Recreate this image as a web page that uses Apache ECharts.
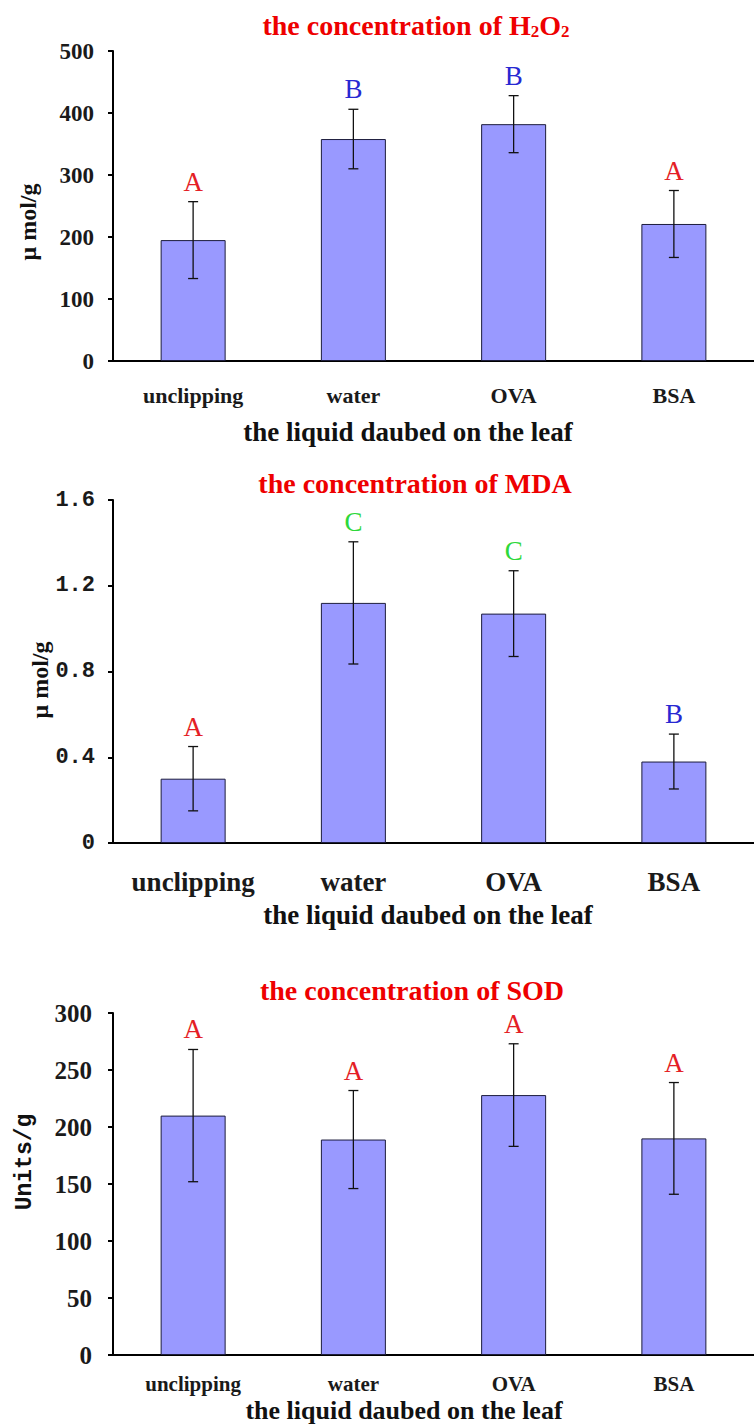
<!DOCTYPE html>
<html>
<head>
<meta charset="utf-8">
<script src="https://cdn.jsdelivr.net/npm/echarts@6/dist/echarts.min.js"></script>
<style>
html,body{margin:0;padding:0;background:#fff;}
#chart{width:754px;height:1426px;}
</style>
</head>
<body>
<div id="chart"></div>
<script>
// ---- data ----
const categories = ['unclipping', 'water', 'OVA', 'BSA'];
const h2o2Mean = [195, 358, 382, 221];
const h2o2Sd = [62, 48, 46, 54];
const h2o2Letters = ['A', 'B', 'B', 'A'];
const mdaMean = [0.30, 1.12, 1.07, 0.38];
const mdaSd = [0.15, 0.285, 0.20, 0.128];
const mdaLetters = ['A', 'C', 'C', 'B'];
const sodMean = [210, 189, 228, 190];
const sodSd = [58, 43, 45, 49];
const sodLetters = ['A', 'A', 'A', 'A'];
const h2o2Ticks = {min: 0, max: 500, interval: 100};
const mdaTicks = {min: 0, max: 1.6, interval: 0.4};
const sodTicks = {min: 0, max: 300, interval: 50};
const titles = ['the concentration of H', 'the concentration of MDA', 'the concentration of SOD'];
const xName = 'the liquid daubed on the leaf';
const yNames = ['\u03bc mol/g', '\u03bc mol/g', 'Units/g'];

// ---- styles ----
const letterColor = {A: '#e41e26', B: '#2828d2', C: '#2ed83a'};
const serif = '"Liberation Serif", "Times New Roman", serif';
const mono = '"Liberation Mono", "DejaVu Sans Mono", monospace';
const textColor = '#1a1a1a';

const chart = echarts.init(document.getElementById('chart'), null, {renderer: 'svg'});

function errRender(letters) {
  return function (params, api) {
    const x = api.value(0), m = api.value(1), s = api.value(2);
    const top = api.coord([x, m + s]);
    const bot = api.coord([x, m - s]);
    const cap = 5;
    const ls = {stroke: '#111', lineWidth: 1.3};
    const L = letters[params.dataIndex];
    return {
      type: 'group',
      children: [
        {type: 'line', shape: {x1: top[0], y1: top[1], x2: bot[0], y2: bot[1]}, style: ls},
        {type: 'line', shape: {x1: top[0] - cap, y1: top[1], x2: top[0] + cap, y2: top[1]}, style: ls},
        {type: 'line', shape: {x1: bot[0] - cap, y1: bot[1], x2: bot[0] + cap, y2: bot[1]}, style: ls},
        {type: 'text', x: top[0], y: top[1] - 20,
          style: {text: L, fill: letterColor[L], font: '27px ' + serif, align: 'center', verticalAlign: 'middle'}}
      ]
    };
  };
}

const grids = [
  {left: 113, top: 51, width: 648, height: 310},
  {left: 113, top: 500, width: 648, height: 343},
  {left: 113, top: 1013, width: 648, height: 342}
];

const xLabelCfg = [
  {fontFamily: serif, fontWeight: 'bold', fontSize: 22, margin: 23},
  {fontFamily: serif, fontWeight: 'bold', fontSize: 27, margin: 25},
  {fontFamily: serif, fontWeight: 'bold', fontSize: 21, margin: 18}
];
const yLabelCfg = [
  {fontFamily: serif, fontWeight: 'bold', fontSize: 23, margin: 19},
  {fontFamily: mono, fontWeight: 'bold', fontSize: 22, margin: 18},
  {fontFamily: serif, fontWeight: 'bold', fontSize: 25, margin: 21}
];
const ticks = [h2o2Ticks, mdaTicks, sodTicks];
const means = [h2o2Mean, mdaMean, sodMean];
const sds = [h2o2Sd, mdaSd, sodSd];
const letters = [h2o2Letters, mdaLetters, sodLetters];

const xAxis = [0, 1, 2].map(i => ({
  type: 'category', gridIndex: i, data: categories,
  axisLine: {lineStyle: {color: '#000', width: 2}},
  axisTick: {inside: true, length: 5, lineStyle: {color: '#000', width: 2}},
  axisLabel: Object.assign({color: textColor}, xLabelCfg[i])
}));
const yAxis = [0, 1, 2].map(i => ({
  type: 'value', gridIndex: i,
  min: ticks[i].min, max: ticks[i].max, interval: ticks[i].interval,
  axisLine: {show: true, lineStyle: {color: '#000', width: 2}},
  axisTick: {show: true, length: 5, lineStyle: {color: '#000', width: 2}},
  splitLine: {show: false},
  axisLabel: Object.assign({color: textColor}, yLabelCfg[i])
}));

const series = [];
[0, 1, 2].forEach(i => {
  series.push({
    type: 'bar', xAxisIndex: i, yAxisIndex: i, data: means[i], barWidth: 65,
    itemStyle: {color: '#9999ff', borderColor: '#1c1c3c', borderWidth: 1}
  });
  series.push({
    type: 'custom', xAxisIndex: i, yAxisIndex: i, clip: false, z: 5,
    renderItem: errRender(letters[i]),
    encode: {x: 0, y: 1},
    data: categories.map((c, k) => [k, means[i][k], sds[i][k]])
  });
});

const titleFont = 'bold 28px ' + serif;
const nameFont = 'bold 27px ' + serif;
const graphic = [
  {type: 'text', x: 416, y: 25, style: {
    text: '{a|' + titles[0] + '}{s|2}{a|O}{s|2}', align: 'center', verticalAlign: 'middle',
    rich: {a: {font: titleFont, fill: '#ee0000'}, s: {font: 'bold 17px ' + serif, fill: '#ee0000', padding: [12, 0, 0, 0]}}
  }},
  {type: 'text', x: 415, y: 483, style: {text: titles[1], font: titleFont, fill: '#ee0000', align: 'center', verticalAlign: 'middle'}},
  {type: 'text', x: 412, y: 990, style: {text: titles[2], font: titleFont, fill: '#ee0000', align: 'center', verticalAlign: 'middle'}},
  {type: 'text', x: 408, y: 432, style: {text: xName, font: nameFont, fill: '#111', align: 'center', verticalAlign: 'middle'}},
  {type: 'text', x: 428, y: 915, style: {text: xName, font: nameFont, fill: '#111', align: 'center', verticalAlign: 'middle'}},
  {type: 'text', x: 404, y: 1410, style: {text: xName, font: 'bold 26px ' + serif, fill: '#111', align: 'center', verticalAlign: 'middle'}},
  {type: 'text', x: 28, y: 222, rotation: Math.PI / 2, style: {text: yNames[0], font: 'bold 24px ' + serif, fill: '#111', align: 'center', verticalAlign: 'middle'}},
  {type: 'text', x: 40, y: 680, rotation: Math.PI / 2, style: {text: yNames[1], font: 'bold 24px ' + serif, fill: '#111', align: 'center', verticalAlign: 'middle'}},
  {type: 'text', x: 25, y: 1162, rotation: Math.PI / 2, style: {text: yNames[2], font: 'bold 23px ' + mono, fill: '#111', align: 'center', verticalAlign: 'middle'}}
];

chart.setOption({
  animation: false,
  backgroundColor: '#fff',
  grid: grids,
  xAxis: xAxis,
  yAxis: yAxis,
  series: series,
  graphic: graphic
});
</script>
</body>
</html>
